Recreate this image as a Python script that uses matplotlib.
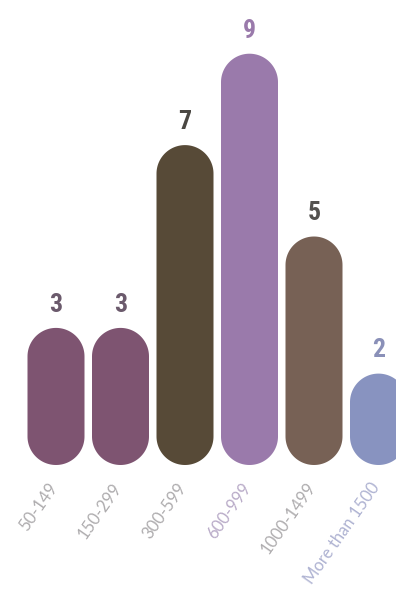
import matplotlib
matplotlib.use("Agg")
import numpy as np
import matplotlib.pyplot as plt
from matplotlib.patches import PathPatch
from matplotlib.path import Path

categories = ["50-149", "150-299", "300-599", "600-999", "1000-1499", "More than 1500"]
values = [3, 3, 7, 9, 5, 2]
bar_colors = ["#7e5471", "#7e5471", "#574a37", "#9a7aab", "#776155", "#8893c0"]
value_colors = ["#6b5a6c", "#6b5a6c", "#4a4742", "#9a7aab", "#545250", "#8a90b8"]
tick_colors = ["#aeacae", "#aeacae", "#aeacae", "#b9abc8", "#aeacae", "#afb3d2"]

W, H = 396, 598
fig = plt.figure(figsize=(W / 100, H / 100), dpi=100)
ax = fig.add_axes([0, 0, 1, 1])

pitch_px = 64.5
unit_px = 45.7
x0_px = 56
base_px = H - 465
ax.set_xlim(-x0_px / pitch_px, (W - x0_px) / pitch_px)
ax.set_ylim(-base_px / unit_px, (H - base_px) / unit_px)
ax.axis("off")

xs = list(range(len(categories)))
width = 57 / pitch_px
bars = ax.bar(xs, values, width=width, color=bar_colors)
yx_ratio = pitch_px / unit_px  # y data units per x data unit for equal pixels


def pill_path(x, y, w, h):
    rx = w / 2
    ry = rx * yx_ratio
    cx = x + rx
    t_top = np.linspace(0, np.pi, 60)
    t_bot = np.linspace(np.pi, 2 * np.pi, 60)
    top = np.column_stack([cx + rx * np.cos(t_top), y + h - ry + ry * np.sin(t_top)])
    bot = np.column_stack([cx + rx * np.cos(t_bot), y + ry + ry * np.sin(t_bot)])
    verts = np.vstack([top, bot, top[:1]])
    return Path(verts, closed=True)


for rect, c in zip(bars.patches, bar_colors):
    x, y = rect.get_x(), rect.get_y()
    w, h = rect.get_width(), rect.get_height()
    rect.remove()
    ax.add_patch(PathPatch(pill_path(x, y, w, h), facecolor=c, edgecolor="none"))

for x, v, c in zip(xs, values, value_colors):
    ax.annotate(str(v), (x, v), xytext=(0, 8), textcoords="offset points",
                ha="center", va="bottom", fontsize=18.5, fontweight="bold",
                family=["Roboto Condensed", "Liberation Sans Narrow", "DejaVu Sans"],
                fontstretch="condensed", color=c)

for x, lab, c in zip(xs, categories, tick_colors):
    ax.annotate(lab, (x, 0), xytext=(-1.5, -14), textcoords="offset points",
                ha="right", va="center", rotation=55, rotation_mode="anchor",
                fontsize=12, family="Lato", color=c)

fig.savefig("out.png", dpi=100)
